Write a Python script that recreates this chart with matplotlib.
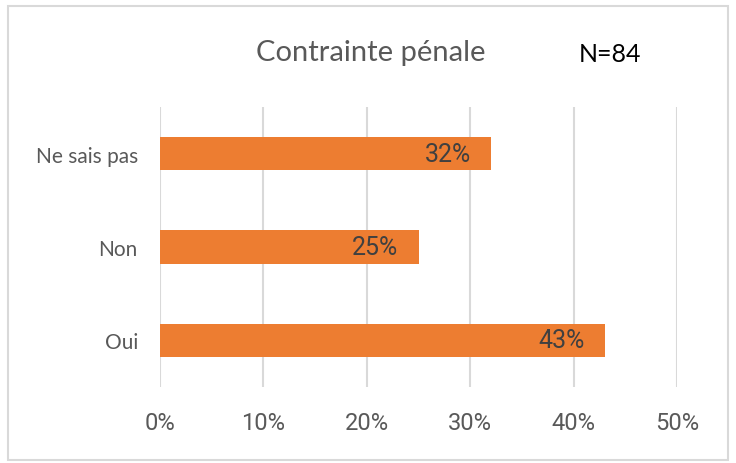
import matplotlib
matplotlib.use("Agg")
import matplotlib.pyplot as plt
from matplotlib.patches import Rectangle

categories = ["Oui", "Non", "Ne sais pas"]
values = [43, 25, 32]
ticks = [0, 10, 20, 30, 40, 50]
title = "Contrainte pénale"
note = "N=84"

bar_color = "#ED7D31"
text_grey = "#595959"
narrow = ["Roboto", "DejaVu Sans"]
body = ["Lato", "DejaVu Sans"]

fig = plt.figure(figsize=(7.36, 4.64), dpi=100)
ax = fig.add_axes([160 / 736, 1 - 388 / 464, 517 / 736, 280 / 464])

bars = ax.barh(categories, values, height=0.355, color=bar_color)
for b, v in zip(bars, values):
    ax.annotate(f"{v}%", (b.get_width(), b.get_y() + b.get_height() / 2),
                xytext=(-20, 0), textcoords="offset pixels",
                ha="right", va="center", fontsize=18, color="#404040", family=narrow)

ax.set_xlim(0, 50)
ax.set_ylim(-0.5, 2.5)
ax.set_xticks(ticks)
ax.set_xticklabels([f"{t}%" for t in ticks], fontsize=17, color=text_grey, family=narrow)
ax.tick_params(axis="x", length=0, pad=17)
ax.tick_params(axis="y", length=0, pad=16, labelsize=15, labelcolor=text_grey)
for lab in ax.get_yticklabels():
    lab.set_family(body)
ax.grid(axis="x", color="#D9D9D9", linewidth=1.5)
ax.set_axisbelow(True)
for s in ax.spines.values():
    s.set_visible(False)

fig.text(371 / 736, 1 - 53 / 464, title, ha="center", va="center",
         fontsize=21, color=text_grey, family=body)
fig.text(610 / 736, 1 - 55 / 464, note, ha="center", va="center",
         fontsize=18, color="black", family=body)

fig.patches.append(Rectangle((8 / 736, 1 - 461 / 464), 720 / 736, 454 / 464,
                             transform=fig.transFigure, fill=False,
                             edgecolor="#D9D9D9", linewidth=1.5))

fig.savefig("out.png", dpi=100)
